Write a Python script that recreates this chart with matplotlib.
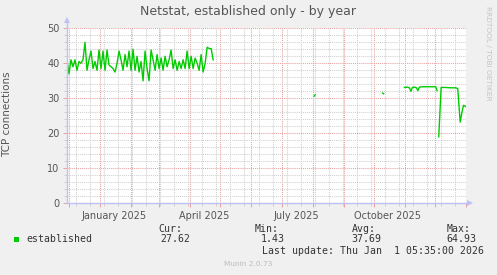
import matplotlib
matplotlib.use("Agg")
import matplotlib.pyplot as plt
import matplotlib.dates as mdates
from matplotlib.transforms import blended_transform_factory
from datetime import datetime
import numpy as np

# ---------------- data ----------------
base_date = datetime(2024, 12, 1)
end_date = datetime(2026, 1, 1, 5, 35)
window_days = 399

# segment 1: samples every 2 days starting at day -2.3 (days from base_date)
seg1_start = -2.3
seg1_step = 2.0
seg1_values = [41, 37, 41, 39, 41, 38, 40.5, 40, 41, 46, 38, 41, 43.5, 38.5, 40.5, 38,
               43.8, 38.5, 43.5, 38, 43.8, 39.5, 39, 38.5, 37.5, 40, 43.5, 41, 38, 42.5,
               39, 43.5, 38, 44, 38, 42, 37.5, 40.5, 35, 43.5, 38.5, 35, 43.8, 41, 38,
               42.5, 38.5, 41.5, 38, 42, 39, 41, 43.8, 38.5, 41, 38, 40.5, 38.5, 41, 38.5,
               43.5, 38.5, 42, 38.5, 41.5, 40, 38, 42.5, 37.5, 40, 44.6, 44.2, 44.2, 41]

iso1_days = [244.5, 245.6]
iso1_values = [30.6, 31.0]
iso2_days = [312.9, 314.0]
iso2_values = [31.5, 31.3]

seg3_days = [334.7, 337.7, 339.7, 341.2, 342.7, 344.7, 346.7, 348.2, 349.7, 352.7,
             358.7, 366.0, 367.4]
seg3_values = [33.1, 33.2, 33.0, 32.0, 33.1, 33.2, 33.0, 32.2, 33.2, 33.3,
               33.3, 33.3, 32.2]

seg4_days = [369.0, 371.4, 375.7, 380.7, 385.7, 388.0, 390.4, 392.2, 393.7, 396.2]
seg4_values = [19.0, 33.1, 33.1, 33.0, 33.0, 32.8, 23.2, 26.0, 28.0, 27.6]

x_labels = ["January 2025", "April 2025", "July 2025", "October 2025"]
x_label_dates = [datetime(2025, 1, 15), datetime(2025, 4, 15),
                 datetime(2025, 7, 16), datetime(2025, 10, 15)]

legend_name = "established"
cur_val, min_val, avg_val, max_val = "27.62", "1.43", "37.69", "64.93"
last_update = "Last update: Thu Jan  1 05:35:00 2026"

# ---------------- style ----------------
BG = "#F0F0F0"
GREEN = "#00CC00"
MAJOR = "#E8A0A0"
MINOR = "#CFCFCF"
AXIS = "#C0C0F8"
TXT = "#555555"

W, H = 497, 275
fig = plt.figure(figsize=(W / 100, H / 100), dpi=100, facecolor=BG)

L, R, T, B = 66.5, 466.0, 28.3, 203.3
ax = fig.add_axes([L / W, (H - B) / H, (R - L) / W, (B - T) / H])
ax.set_facecolor("white")

b = mdates.date2num(base_date)
def to_num(days):
    return [b + d for d in days]

seg1_days = [seg1_start + seg1_step * i for i in range(len(seg1_values))]
for d, v in [(seg1_days, seg1_values), (iso1_days, iso1_values), (iso2_days, iso2_values),
             (seg3_days, seg3_values), (seg4_days, seg4_values)]:
    ax.plot(to_num(d), v, color=GREEN, lw=1.0, solid_joinstyle="round", zorder=5)

xmax = mdates.date2num(end_date)
xmin = xmax - window_days
ax.set_xlim(xmin, xmax)
ax.set_ylim(0, 50)

# grids
m = []
y, mo = 2024, 11
for _ in range(15):
    m.append(mdates.date2num(datetime(y, mo, 1)))
    mo += 1
    if mo > 12:
        mo = 1
        y += 1
m = [v for v in m if xmin <= v <= xmax]
biweek0 = mdates.date2num(datetime(2024, 11, 24))
bw = [biweek0 + 14 * k for k in range(31)]
bw = [v for v in bw if xmin <= v <= xmax]
ax.set_xticks(m)
ax.set_xticks(bw, minor=True)
ax.set_yticks([0, 10, 20, 30, 40, 50])
ax.set_yticks(np.arange(0, 51, 2), minor=True)
ax.set_xticklabels([])
ax.grid(which="minor", color=MINOR, linestyle=(0, (1, 1)), lw=0.75)
ax.grid(which="major", color=MAJOR, linestyle=(0, (1, 1)), lw=0.75)
ax.set_axisbelow(True)
ax.tick_params(axis="x", which="major", length=3, color=MAJOR, width=0.7)
ax.tick_params(axis="x", which="minor", length=2, color=MINOR, width=0.7)
ax.tick_params(axis="y", which="major", length=3, color=MAJOR, width=0.7,
               labelsize=7, labelcolor=TXT, pad=2)
ax.tick_params(axis="y", which="minor", length=2, color=MINOR, width=0.7)

for s in ["top", "right"]:
    ax.spines[s].set_visible(False)
for s in ["left", "bottom"]:
    ax.spines[s].set_color(AXIS)
    ax.spines[s].set_linewidth(1.0)
    ax.spines[s].set_zorder(6)

# arrows
ax.plot([0, 0], [1, 1.04], transform=ax.transAxes, color=AXIS, lw=1.0, clip_on=False)
ax.plot([0], [1.045], marker="^", ms=5, color=AXIS, transform=ax.transAxes, clip_on=False,
        markeredgewidth=0)
ax.plot([1, 1.008], [0, 0], transform=ax.transAxes, color=AXIS, lw=1.0, clip_on=False)
ax.plot([1.01], [0], marker=">", ms=5, color=AXIS, transform=ax.transAxes, clip_on=False,
        markeredgewidth=0)

trans = blended_transform_factory(ax.transData, ax.transAxes)
for lab, d in zip(x_labels, x_label_dates):
    ax.text(mdates.date2num(d), -0.045, lab, transform=trans, ha="center", va="top",
            fontsize=7, color=TXT)

ax.set_ylabel("TCP connections", fontsize=7.5, color=TXT, labelpad=10)
ax.yaxis.set_label_coords(12.5 / (R - L) - L / (R - L), (B - 114) / (B - T))

def fx(px):
    return px / W
def fy(py):
    return 1 - py / H

fig.text(fx(248), fy(12), "Netstat, established only - by year", ha="center", va="center",
         fontsize=9, color=TXT)
fig.text(fx(488), fy(53), "RRDTOOL / TOBI OETIKER", rotation=270, ha="center", va="center",
         fontsize=5.3, color="#C4C4C4")

mono = dict(family="DejaVu Sans Mono", fontsize=7.1, color="#333333", va="center")
fig.patches.append(plt.Rectangle((fx(14), fy(242.2)), 5.3 / W, 5.3 / H, transform=fig.transFigure,
                                 facecolor=GREEN, edgecolor="none"))
fig.text(fx(26), fy(239.5), legend_name, ha="left", **mono)
fig.text(fx(158.3), fy(228.5), "Cur:", ha="left", **mono)
fig.text(fx(190), fy(239.5), cur_val, ha="right", **mono)
fig.text(fx(255), fy(228.5), "Min:", ha="left", **mono)
fig.text(fx(284.5), fy(239.5), min_val, ha="right", **mono)
fig.text(fx(351.7), fy(228.5), "Avg:", ha="left", **mono)
fig.text(fx(381.5), fy(239.5), avg_val, ha="right", **mono)
fig.text(fx(446.7), fy(228.5), "Max:", ha="left", **mono)
fig.text(fx(476.5), fy(239.5), max_val, ha="right", **mono)
fig.text(fx(261.7), fy(251), last_update, ha="left", **mono)
fig.text(fx(248), fy(264.5), "Munin 2.0.73", ha="center", va="center", fontsize=5.3,
         color="#BBBBBB")

fig.savefig("out.png", dpi=100, facecolor=BG)
